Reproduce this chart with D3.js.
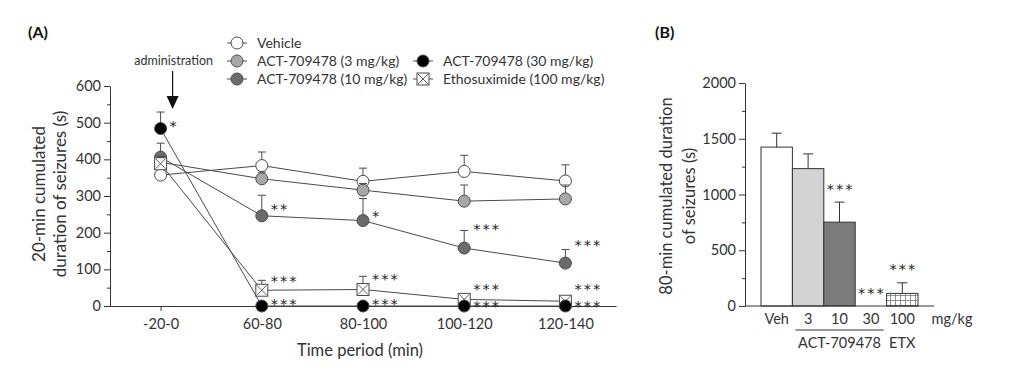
<!DOCTYPE html>
<html>
<head>
<meta charset="utf-8">
<script src="https://cdn.jsdelivr.net/npm/d3@7"></script>
<style>
  body { margin: 0; background: #fff; }
  svg { display: block; font-family: Lato, "Open Sans", sans-serif; }
</style>
</head>
<body>
<div id="chart"></div>
<script>
// ---- Panel A data (20-min cumulated duration, s) ----
const periods = ["-20-0", "60-80", "80-100", "100-120", "120-140"];
const vehicleMean = [357, 383, 340, 367, 341];
const vehicleSem  = [28, 37, 36, 44, 44];
const dose3Mean   = [392, 347, 316, 286, 292];
const dose3Sem    = [20, 18, 18, 44, 38];
const dose10Mean  = [406, 246, 233, 158, 117];
const dose10Sem   = [38, 56, 60, 48, 37];
const dose30Mean  = [484, 0, 0, 0, 0];
const dose30Sem   = [45, 0, 0, 0, 0];
const etxMean     = [388, 43, 45, 18, 13];
const etxSem      = [20, 27, 36, 0, 0];
const seriesNames = ["Vehicle", "ACT-709478 (3 mg/kg)", "ACT-709478 (10 mg/kg)",
                     "ACT-709478 (30 mg/kg)", "Ethosuximide (100 mg/kg)"];

// significance marks for panel A: period, height (data units), text
const sigAPeriod = ["-20-0", "60-80", "60-80", "60-80", "80-100", "80-100", "80-100",
                    "100-120", "100-120", "100-120", "120-140", "120-140", "120-140"];
const sigAValue  = [498, 274, 76, 13, 254, 81, 13, 217, 55, 8, 174, 55, 8];
const sigAText   = ["*", "**", "***", "***", "*", "***", "***", "***", "***", "***", "***", "***", "***"];

// ---- Panel B data (80-min cumulated duration, s) ----
const groups    = ["Veh", "3", "10", "30", "100"];
const totalMean = [1425, 1232, 752, 0, 113];
const totalSem  = [125, 132, 180, 0, 95];
const sigBGroup = ["10", "30", "100"];
const sigBValue = [1075, 141, 356];

const width = 1024, height = 372;
const svg = d3.select("#chart").append("svg")
    .attr("width", width)
    .attr("height", height);

const lineColor = "#4a4a4a";
const textColor = "#333";
const starFont = "DejaVu Sans";

// hatch pattern for ETX bar
const defs = svg.append("defs");
const pat = defs.append("pattern")
    .attr("id", "grid")
    .attr("patternUnits", "userSpaceOnUse")
    .attr("width", 5).attr("height", 5);
pat.append("rect").attr("width", 5).attr("height", 5).attr("fill", "#fff");
pat.append("path")
    .attr("d", "M0,0.5H5M0.5,0V5")
    .attr("stroke", "#777")
    .attr("stroke-width", 0.8);

// ================= Panel A =================
const x = d3.scalePoint().domain(periods).range([110, 616]).padding(0.5);
const y = d3.scaleLinear().domain([0, 600]).range([306, 86]);

const gA = svg.append("g");

// y axis with minor ticks
gA.append("g")
    .attr("transform", "translate(110,0)")
    .call(d3.axisLeft(y).tickValues(d3.range(50, 600, 100)).tickSize(3).tickFormat(""))
    .call(g => g.select(".domain").remove());
gA.append("g")
    .attr("transform", "translate(110,0)")
    .call(d3.axisLeft(y).tickValues(d3.range(0, 601, 100)).tickSize(6).tickSizeOuter(0).tickPadding(3));

gA.append("g")
    .attr("transform", "translate(0,306)")
    .call(d3.axisBottom(x).tickSize(5).tickSizeOuter(0).tickPadding(8));

gA.selectAll(".tick text").attr("font-size", 14.5).attr("fill", textColor).attr("font-family", "Lato");
gA.selectAll(".domain, .tick line").attr("stroke", "#333");

gA.append("text")
    .attr("x", 360).attr("y", 356)
    .attr("text-anchor", "middle")
    .attr("font-size", 16.5).attr("fill", textColor)
    .text("Time period (min)");

gA.append("text")
    .attr("transform", "translate(45,194) rotate(-90)")
    .attr("text-anchor", "middle")
    .attr("font-size", 17).attr("fill", textColor)
    .text("20-min cumulated");
gA.append("text")
    .attr("transform", "translate(66,194) rotate(-90)")
    .attr("text-anchor", "middle")
    .attr("font-size", 17).attr("fill", textColor)
    .text("duration of seizures (s)");

svg.append("text")
    .attr("x", 28).attr("y", 38)
    .attr("font-size", 16).attr("font-weight", "bold").attr("fill", "#111")
    .text("(A)");

const series = [
    { name: seriesNames[0], mean: vehicleMean, sem: vehicleSem, fill: "#fff", shape: "circle" },
    { name: seriesNames[1], mean: dose3Mean, sem: dose3Sem, fill: "#a8a8a8", shape: "circle" },
    { name: seriesNames[2], mean: dose10Mean, sem: dose10Sem, fill: "#6b6b6b", shape: "circle" },
    { name: seriesNames[4], mean: etxMean, sem: etxSem, fill: "#fff", shape: "square" },
    { name: seriesNames[3], mean: dose30Mean, sem: dose30Sem, fill: "#000", shape: "circle" }
];

const line = d3.line()
    .x((d, i) => x(periods[i]))
    .y(d => y(d));

function drawMarker(sel, s, cx, cy) {
    if (s.shape === "circle") {
        sel.append("circle")
            .attr("cx", cx).attr("cy", cy).attr("r", 6)
            .attr("fill", s.fill).attr("stroke", lineColor).attr("stroke-width", 1);
    } else {
        sel.append("rect")
            .attr("x", cx - 6).attr("y", cy - 6)
            .attr("width", 12).attr("height", 12)
            .attr("fill", "#fff").attr("stroke", lineColor).attr("stroke-width", 1);
        sel.append("path")
            .attr("d", `M${cx - 5},${cy - 5}L${cx + 5},${cy + 5}M${cx + 5},${cy - 5}L${cx - 5},${cy + 5}`)
            .attr("stroke", lineColor).attr("stroke-width", 0.9);
    }
}

series.forEach(s => {
    const g = gA.append("g");
    // error bars (upper SEM only)
    s.mean.forEach((m, i) => {
        if (!s.sem[i]) return;
        const cx = x(periods[i]);
        g.append("path")
            .attr("d", `M${cx},${y(m)}V${y(m + s.sem[i])}M${cx - 4},${y(m + s.sem[i])}H${cx + 4}`)
            .attr("stroke", lineColor).attr("stroke-width", 1).attr("fill", "none");
    });
    g.append("path")
        .datum(s.mean)
        .attr("d", line)
        .attr("fill", "none")
        .attr("stroke", lineColor)
        .attr("stroke-width", 1);
    s.mean.forEach((m, i) => drawMarker(g, s, x(periods[i]), y(m)));
});

// significance stars A
sigAText.forEach((t, i) => {
    gA.append("text")
        .attr("x", x(sigAPeriod[i]) + 9)
        .attr("y", y(sigAValue[i]) + 8)
        .attr("font-family", starFont)
        .attr("font-size", 14.5).attr("letter-spacing", 2).attr("fill", "#222")
        .text(t);
});

// legend
const legendX = [237, 237, 237, 423, 423];
const legendY = [43, 61, 79, 61, 79];
const legendOrder = [0, 1, 2, 4, 3]; // index into series
legendOrder.forEach((si, k) => {
    const s = series[si];
    const lx = legendX[k], ly = legendY[k];
    const g = svg.append("g");
    g.append("path")
        .attr("d", `M${lx - 10},${ly}H${lx + 10}`)
        .attr("stroke", lineColor).attr("stroke-width", 1);
    drawMarker(g, s, lx, ly);
    g.append("text")
        .attr("x", lx + 20).attr("y", ly + 5)
        .attr("font-size", 14).attr("fill", textColor)
        .text(s.name);
});

// administration arrow
svg.append("text")
    .attr("x", 213).attr("y", 65)
    .attr("text-anchor", "end")
    .attr("font-size", 12.5).attr("fill", textColor)
    .text("administration");
svg.append("path")
    .attr("d", `M${x(periods[0]) + 12},71V98`)
    .attr("stroke", "#111").attr("stroke-width", 1.2);
svg.append("path")
    .attr("d", `M${x(periods[0]) + 6},96L${x(periods[0]) + 18},96L${x(periods[0]) + 12},109Z`)
    .attr("fill", "#111");

// ================= Panel B =================
const xb = d3.scaleBand().domain(groups).range([761, 918]).padding(0);
const yb = d3.scaleLinear().domain([0, 2000]).range([306, 83]);
const barFill = ["#fff", "#d3d3d3", "#7c7c7c", "#444", "url(#grid)"];

const gB = svg.append("g");

gB.append("g")
    .attr("transform", "translate(745,0)")
    .call(d3.axisLeft(yb).tickValues(d3.range(250, 2000, 500)).tickSize(3).tickFormat(""))
    .call(g => g.select(".domain").remove());
gB.append("g")
    .attr("transform", "translate(745,0)")
    .call(d3.axisLeft(yb).tickValues(d3.range(0, 2001, 500)).tickSize(6).tickSizeOuter(0)
        .tickPadding(3).tickFormat(d3.format("d")));
gB.selectAll(".tick text").attr("font-size", 14.5).attr("fill", textColor).attr("font-family", "Lato");
gB.selectAll(".domain, .tick line").attr("stroke", "#333");

// bars
gB.selectAll("rect.bar")
    .data(groups)
    .enter().append("rect")
    .attr("class", "bar")
    .attr("x", d => xb(d))
    .attr("y", (d, i) => yb(totalMean[i]))
    .attr("width", xb.bandwidth())
    .attr("height", (d, i) => yb(0) - yb(totalMean[i]))
    .attr("fill", (d, i) => barFill[i])
    .attr("stroke", "#333")
    .attr("stroke-width", 1);

// error bars
groups.forEach((gname, i) => {
    if (!totalSem[i]) return;
    const cx = xb(gname) + xb.bandwidth() / 2;
    gB.append("path")
        .attr("d", `M${cx},${yb(totalMean[i])}V${yb(totalMean[i] + totalSem[i])}M${cx - 5},${yb(totalMean[i] + totalSem[i])}H${cx + 5}`)
        .attr("stroke", "#333").attr("stroke-width", 1);
});

// x axis line
gB.append("path")
    .attr("d", "M745,306H934")
    .attr("stroke", "#333").attr("stroke-width", 1);

// x labels
groups.forEach(gname => {
    gB.append("text")
        .attr("x", xb(gname) + xb.bandwidth() / 2)
        .attr("y", 324)
        .attr("text-anchor", "middle")
        .attr("font-size", 14.5).attr("fill", textColor)
        .text(gname);
});
gB.append("text")
    .attr("x", 952).attr("y", 324)
    .attr("text-anchor", "middle")
    .attr("font-size", 14.5).attr("fill", textColor)
    .text("mg/kg");
gB.append("path")
    .attr("d", `M${xb("3") + 3},330H${xb("30") + xb.bandwidth() - 3}`)
    .attr("stroke", "#333").attr("stroke-width", 1);
gB.append("text")
    .attr("x", xb("10") + xb.bandwidth() / 2)
    .attr("y", 348)
    .attr("text-anchor", "middle")
    .attr("font-size", 14.5).attr("fill", textColor)
    .text("ACT-709478");
gB.append("text")
    .attr("x", xb("100") + xb.bandwidth() / 2)
    .attr("y", 348)
    .attr("text-anchor", "middle")
    .attr("font-size", 14.5).attr("fill", textColor)
    .text("ETX");

// significance stars B
sigBGroup.forEach((gname, i) => {
    gB.append("text")
        .attr("x", xb(gname) + xb.bandwidth() / 2 + 1)
        .attr("y", yb(sigBValue[i]) + 8)
        .attr("text-anchor", "middle")
        .attr("font-family", starFont)
        .attr("font-size", 14.5).attr("letter-spacing", 2).attr("fill", "#222")
        .text("***");
});

gB.append("text")
    .attr("transform", "translate(672,196) rotate(-90)")
    .attr("text-anchor", "middle")
    .attr("font-size", 16.5).attr("fill", textColor)
    .text("80-min cumulated duration");
gB.append("text")
    .attr("transform", "translate(695,196) rotate(-90)")
    .attr("text-anchor", "middle")
    .attr("font-size", 16.5).attr("fill", textColor)
    .text("of seizures (s)");

svg.append("text")
    .attr("x", 655).attr("y", 38)
    .attr("font-size", 16).attr("font-weight", "bold").attr("fill", "#111")
    .text("(B)");
</script>
</body>
</html>
